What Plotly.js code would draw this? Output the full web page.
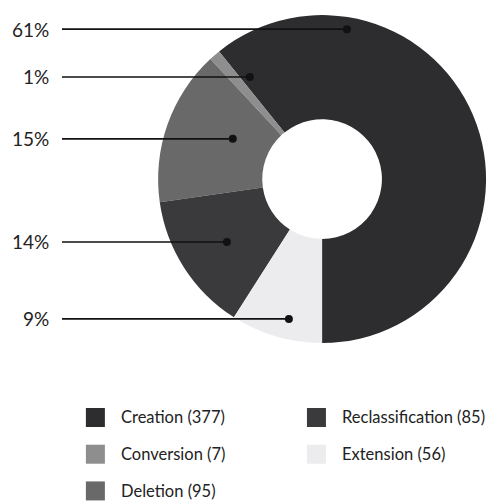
<!DOCTYPE html>
<html>
<head>
<meta charset="utf-8">
<script src="https://cdn.plot.ly/plotly-3.0.1.min.js"></script>
<style>html,body{margin:0;padding:0;background:#fff;}#chart{width:488px;height:503px;}</style>
</head>
<body>
<div id="chart"></div>
<script>
// Data
var categories = ["Creation", "Conversion", "Deletion", "Reclassification", "Extension"];
var counts = [377, 7, 95, 85, 56];
var colors = ["#2d2d2f", "#8e8e8e", "#696969", "#3a3a3c", "#ececef"];

// Callout anchor points (paper coordinates) for each slice's percentage label
var calloutY = [0.942, 0.847, 0.724, 0.519, 0.366];
var calloutX = [0.711, 0.512, 0.477, 0.465, 0.592];

// Legend layout: column-major, 3 rows max
var legendCols = [0.176, 0.629];
var legendRows = [0.170, 0.097, 0.024];

var total = counts.reduce(function(a, b){ return a + b; }, 0);
var fontFam = "Lato, 'Open Sans', sans-serif";

// first slice ends exactly at 6 o'clock
var rot = 180 - 360 * counts[0] / total;

var trace = {
  type: "pie",
  labels: categories,
  values: counts,
  sort: false,
  direction: "counterclockwise",
  rotation: rot,
  hole: 0.365,
  marker: {colors: colors, line: {width: 0}},
  textinfo: "none",
  hoverinfo: "label+value+percent",
  showlegend: false,
  domain: {x: [0.324, 0.996], y: [0.318, 0.970]}
};

var shapes = [];
var annotations = [];

categories.forEach(function(c, i){
  var pct = Math.round(counts[i] / total * 100) + "%";
  annotations.push({
    xref: "paper", yref: "paper", x: 0.104, y: calloutY[i],
    xanchor: "right", yanchor: "middle", showarrow: false,
    text: pct, font: {family: fontFam, size: 19, color: "#222"}
  });
  shapes.push({
    type: "line", xref: "paper", yref: "paper",
    x0: 0.127, x1: calloutX[i], y0: calloutY[i], y1: calloutY[i],
    line: {color: "#111", width: 1.6}
  });
  var dx = 4 / 488, dy = 4 / 503;
  shapes.push({
    type: "circle", xref: "paper", yref: "paper",
    x0: calloutX[i] - dx, x1: calloutX[i] + dx,
    y0: calloutY[i] - dy, y1: calloutY[i] + dy,
    fillcolor: "#111", line: {width: 0}
  });
  var col = Math.floor(i / 3), row = i % 3;
  var lx = legendCols[col], ly = legendRows[row];
  var sw = 19 / 488, sh = 19 / 503;
  shapes.push({
    type: "rect", xref: "paper", yref: "paper",
    x0: lx, x1: lx + sw, y0: ly - sh / 2, y1: ly + sh / 2,
    fillcolor: colors[i], line: {width: 0}
  });
  annotations.push({
    xref: "paper", yref: "paper", x: lx + 33 / 488, y: ly,
    xanchor: "left", yanchor: "middle", showarrow: false,
    text: c + " (" + counts[i] + ")",
    font: {family: fontFam, size: 16.5, color: "#222"}
  });
});

var layout = {
  width: 488, height: 503,
  margin: {l: 0, r: 0, t: 0, b: 0},
  paper_bgcolor: "#fff", plot_bgcolor: "#fff",
  showlegend: false,
  shapes: shapes,
  annotations: annotations
};

Plotly.newPlot("chart", [trace], layout, {displayModeBar: false, staticPlot: true});
</script>
</body>
</html>
